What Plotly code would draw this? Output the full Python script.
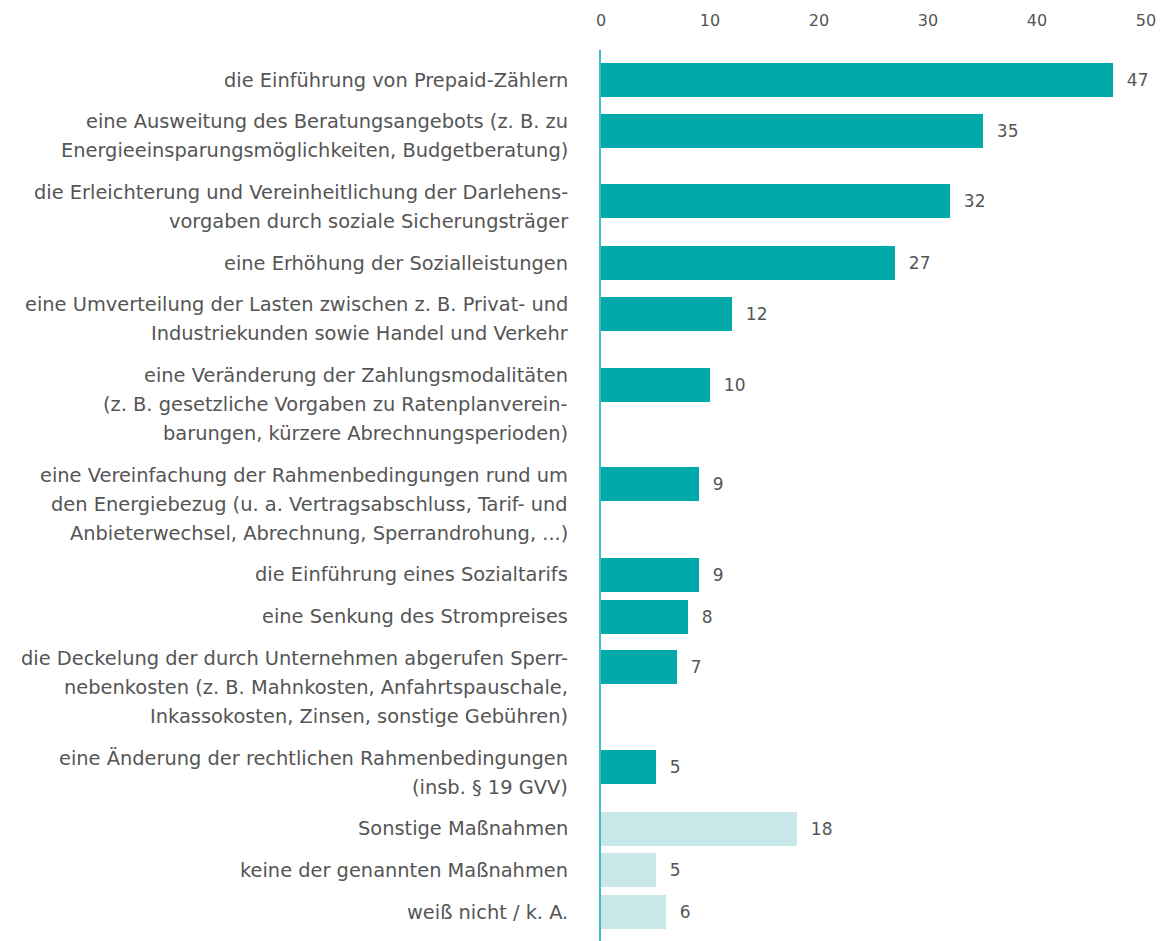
import plotly.graph_objects as go

# Data
labels = [
    "die Einführung von Prepaid-Zählern",
    "eine Ausweitung des Beratungsangebots (z. B. zu\nEnergieeinsparungsmöglichkeiten, Budgetberatung)",
    "die Erleichterung und Vereinheitlichung der Darlehens-\nvorgaben durch soziale Sicherungsträger",
    "eine Erhöhung der Sozialleistungen",
    "eine Umverteilung der Lasten zwischen z. B. Privat- und\nIndustriekunden sowie Handel und Verkehr",
    "eine Veränderung der Zahlungsmodalitäten\n(z. B. gesetzliche Vorgaben zu Ratenplanverein-\nbarungen, kürzere Abrechnungsperioden)",
    "eine Vereinfachung der Rahmenbedingungen rund um\nden Energiebezug (u. a. Vertragsabschluss, Tarif- und\nAnbieterwechsel, Abrechnung, Sperrandrohung, ...)",
    "die Einführung eines Sozialtarifs",
    "eine Senkung des Strompreises",
    "die Deckelung der durch Unternehmen abgerufen Sperr-\nnebenkosten (z. B. Mahnkosten, Anfahrtspauschale,\nInkassokosten, Zinsen, sonstige Gebühren)",
    "eine Änderung der rechtlichen Rahmenbedingungen\n(insb. § 19 GVV)",
    "Sonstige Maßnahmen",
    "keine der genannten Maßnahmen",
    "weiß nicht / k. A.",
]
values = [47, 35, 32, 27, 12, 10, 9, 9, 8, 7, 5, 18, 5, 6]
groups = ["massnahme"] * 11 + ["sonstige"] * 3
x_ticks = [0, 10, 20, 30, 40, 50]

COLORS = {"massnahme": "#00a9aa", "sonstige": "#c8e7e9"}
TEXT = "#555555"
FONT = "DejaVu Sans"

# page body has an 8px margin, so the figure div starts at (8, 8)
OFF = 8
W, H = 1164, 941
TOP_PX = 50 - OFF          # top of plot area inside the div
BOTTOM_PX = H - OFF        # bottom of visible page inside the div

# vertical layout in pixels (y axis is mapped 1:1 onto div pixels)
LINE_H = 29
GAP = 41.7
first_line = []
pos = 80 - OFF
for lab in labels:
    first_line.append(pos)
    pos += lab.count("\n") * LINE_H + GAP
bar_y = [fl + (9 if lab.count("\n") else 0) for fl, lab in zip(first_line, labels)]

fig = go.Figure(
    go.Bar(
        x=values,
        y=bar_y,
        orientation="h",
        width=34,
        marker=dict(color=[COLORS[g] for g in groups], line=dict(width=0)),
        text=values,
        texttemplate="\u00a0\u00a0%{x}",
        textposition="outside",
        textfont=dict(family=FONT, size=17, color=TEXT),
        constraintext="none",
        cliponaxis=False,
        hoverinfo="skip",
    )
)

# category labels, one annotation per line
for fl, lab in zip(first_line, labels):
    for i, line in enumerate(lab.split("\n")):
        fig.add_annotation(
            x=0, xref="paper", xanchor="right", xshift=-31,
            y=fl + i * LINE_H, yref="y", yanchor="middle",
            text=line, showarrow=False, align="right",
            font=dict(family=FONT, size=19.4, color=TEXT),
        )

fig.update_layout(
    width=W,
    height=H,
    margin=dict(l=601 - OFF, r=W - (1146 - OFF), t=TOP_PX, b=H - BOTTOM_PX),
    plot_bgcolor="white",
    paper_bgcolor="white",
    showlegend=False,
    bargap=0,
    xaxis=dict(
        side="top",
        range=[0, 50],
        tickvals=x_ticks,
        showgrid=False,
        zeroline=False,
        showline=False,
        ticks="",
        automargin=False,
        ticklabelstandoff=20,
        tickfont=dict(family=FONT, size=16, color=TEXT),
    ),
    yaxis=dict(
        range=[BOTTOM_PX, TOP_PX],
        showticklabels=False,
        showgrid=False,
        zeroline=False,
        showline=True,
        linecolor="#3dbfc3",
        linewidth=2,
        ticks="",
        automargin=False,
    ),
)

fig.write_html("out.html")
